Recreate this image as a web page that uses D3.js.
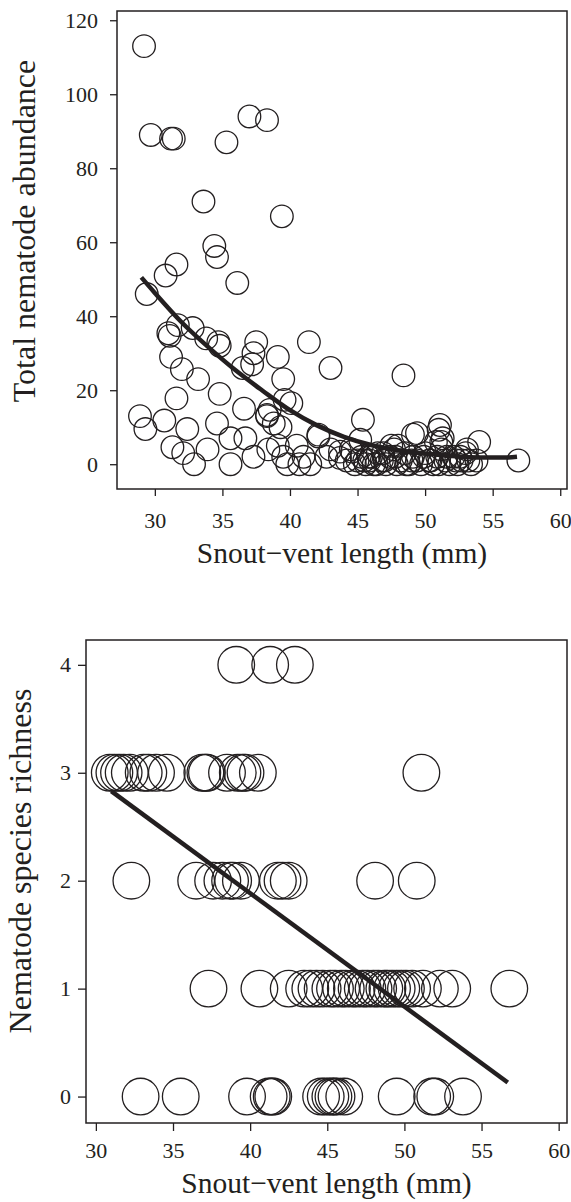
<!DOCTYPE html>
<html lang="en">
<head>
<meta charset="UTF-8">
<title>Nematodes vs snout-vent length</title>
<script src="https://d3js.org/d3.v7.min.js"></script>
<style>
  body { margin: 0; background: #fff; }
  svg text { font-family: "Liberation Serif", "Times New Roman", serif; fill: #231f20; }
</style>
</head>
<body>
<svg width="571" height="1202"></svg>
<script>
// ---- panel A: total nematode abundance ----
const svlA = [29.2, 29.7, 31.2, 31.4, 35.3, 37.0, 38.3, 33.6, 39.4, 34.4, 34.6, 31.6, 30.8, 36.1, 29.4,
  31.7, 31.0, 31.1, 32.8, 33.8, 34.7, 34.8, 31.2, 32.0, 33.2, 34.8, 31.6, 28.9, 29.3, 30.7,
  32.4, 34.6, 36.6, 31.3, 32.1, 32.9, 33.9, 35.6, 35.6, 36.7, 37.3, 37.5, 37.3, 36.5, 37.2,
  38.3, 41.4, 43.0, 48.4, 45.4, 39.1, 39.5, 40.1, 39.6, 38.5, 38.3, 38.8, 39.3, 42.1, 40.5,
  39.1, 38.4, 39.5, 41.0, 41.5, 43.7, 44.6, 45.2, 49.4, 39.8, 42.7, 51.1, 51.0, 54.0, 56.9,
  49.1, 51.3, 53.1, 40.7, 42.1, 43.0, 43.7, 44.2, 44.8, 45.3, 45.6, 45.9, 46.2, 46.5, 46.8,
  47.1, 47.4, 47.7, 47.9, 48.2, 48.5, 48.8, 49.1, 49.4, 49.7, 50.0, 50.3, 50.6, 50.9, 51.2,
  51.5, 51.8, 52.1, 52.4, 52.7, 53.0, 53.4, 53.8, 44.5, 46.0, 47.5, 50.8, 52.6,
  45.0, 45.8, 46.4, 47.0, 47.8, 48.6, 49.0, 49.9, 50.4, 51.0, 51.6, 52.3, 53.2, 46.9, 48.0,
  51.2, 45.5];
const abundA = [113, 89, 88, 88, 87, 94, 93, 71, 67, 59, 56, 54, 51, 49, 46,
  37.6, 35.4, 34.7, 36.8, 34, 33, 32, 29, 25.7, 23, 19, 17.8, 13, 9.5, 11.8,
  9.5, 11, 15, 4.6, 3, 0, 4, 7, 0, 7, 2, 33, 30, 26, 27,
  13.3, 33, 26, 24, 12, 29, 23, 16.5, 17.4, 14.7, 13, 11, 10, 8, 5,
  5, 4, 2, 2, 0, 3.4, 3.4, 6.6, 8.4, 0, 2, 10.6, 9.3, 6, 1,
  8, 7, 4, 0, 7.5, 4, 1.7, 1, 0, 2, 0, 1, 0, 3, 1,
  0, 2, 4, 0, 1, 3, 0, 2, 1, 0, 3, 1, 0, 2, 4,
  1, 0, 2, 0, 1, 3, 0, 1, 4, 2, 5, 6, 2,
  1, 2, 0, 1, 2, 0, 1, 2, 1, 0, 2, 1, 1, 3, 5,
  6, 1];
// fitted curve
const fitSvlA = [29, 30, 32, 34, 36, 38, 40, 42, 44, 46, 48, 50, 52, 54, 56, 56.8];
const fitAbundA = [50.5, 46.3, 38.3, 31.5, 25.3, 19.8, 14.6, 10.5, 7.4, 5.2, 3.8, 2.9, 2.2, 1.8, 1.8, 2.0];
const yTicksA = [0, 20, 40, 60, 80, 100, 120];

// ---- panel B: species richness ----
const svlB = [39.1, 41.3, 42.9,
  30.9, 31.2, 31.5, 31.8, 32.2, 33.1, 33.4, 33.9, 34.6, 36.9, 37.1, 37.2, 38.5, 39.2, 39.5, 39.7, 40.5, 51.1,
  32.3, 36.5, 37.6, 38.2, 38.7, 38.9, 39.4, 41.8, 42.1, 42.5, 48.1, 50.8,
  37.3, 40.6, 42.5, 43.5, 43.9, 44.3, 44.7, 45.2, 45.5, 45.9, 46.2, 46.6, 46.9, 47.3, 47.6, 48.0,
  48.3, 48.7, 48.9, 49.2, 49.5, 49.8, 50.1, 50.5, 51.2, 52.3, 53.1, 56.8,
  32.9, 35.5, 39.8, 41.2, 41.4, 41.5, 44.6, 44.9, 45.2, 45.4, 45.6, 46.1, 49.5, 51.8, 52.0, 53.8];
const richB = [4, 4, 4,
  3, 3, 3, 3, 3, 3, 3, 3, 3, 3, 3, 3, 3, 3, 3, 3, 3, 3,
  2, 2, 2, 2, 2, 2, 2, 2, 2, 2, 2, 2,
  1, 1, 1, 1, 1, 1, 1, 1, 1, 1, 1, 1, 1, 1, 1, 1,
  1, 1, 1, 1, 1, 1, 1, 1, 1, 1, 1, 1,
  0, 0, 0, 0, 0, 0, 0, 0, 0, 0, 0, 0, 0, 0, 0, 0];
const fitSvlB = [31.0, 56.7];
const fitRichB = [2.83, 0.13];
const yTicksB = [0, 1, 2, 3, 4];

const xTicks = [30, 35, 40, 45, 50, 55, 60];
const xTitle = "Snout\u2212vent length (mm)";

const svg = d3.select("svg");
const ink = "#231f20";

function drawPanel(o) {
  const g = svg.append("g");
  const x = d3.scaleLinear().domain(o.xDomain).range([o.left, o.right]);
  const y = d3.scaleLinear().domain(o.yDomain).range([o.bottom, o.top]);

  // frame
  g.append("rect")
    .attr("x", o.left).attr("y", o.top)
    .attr("width", o.right - o.left).attr("height", o.bottom - o.top)
    .attr("fill", "none").attr("stroke", ink).attr("stroke-width", 1.5);

  const xAxis = g.append("g").attr("transform", `translate(0,${o.bottom})`)
    .call(d3.axisBottom(x).tickValues(xTicks).tickSize(o.xTick).tickPadding(o.xPad));
  const yAxis = g.append("g").attr("transform", `translate(${o.left},0)`)
    .call(d3.axisLeft(y).tickValues(o.yTicks).tickFormat(d3.format("d"))
      .tickSize(o.yTick).tickPadding(o.yPad));
  [xAxis, yAxis].forEach(a => {
    a.select(".domain").remove();
    a.selectAll("line").attr("stroke", ink).attr("stroke-width", 1.3);
    a.selectAll("text").attr("font-size", 22).attr("fill", ink)
      .attr("font-family", "Liberation Serif, Times New Roman, serif");
  });

  // points
  g.append("g").selectAll("circle")
    .data(o.xs.map((v, i) => [v, o.ys[i]]))
    .join("circle")
    .attr("cx", d => x(d[0])).attr("cy", d => y(d[1]))
    .attr("r", o.r)
    .attr("fill", "none").attr("stroke", ink).attr("stroke-width", 1.3);

  // fit
  const line = d3.line().x(d => x(d[0])).y(d => y(d[1])).curve(d3.curveMonotoneX);
  g.append("path")
    .datum(o.fitX.map((v, i) => [v, o.fitY[i]]))
    .attr("d", line)
    .attr("fill", "none").attr("stroke", ink).attr("stroke-width", 4.5);

  // titles
  g.append("text")
    .attr("x", (o.left + o.right) / 2).attr("y", o.xTitleY)
    .attr("text-anchor", "middle").attr("font-size", 29.5)
    .text(xTitle);
  g.append("text")
    .attr("transform", `translate(${o.yTitleX},${o.yTitleMid}) rotate(-90)`)
    .attr("text-anchor", "middle").attr("font-size", 32)
    .text(o.yTitle);
}

drawPanel({
  left: 117, right: 567, top: 11, bottom: 489,
  xDomain: [27.2, 60.5], yDomain: [-6.7, 122.5],
  yTicks: yTicksA, xs: svlA, ys: abundA, r: 11.3,
  xTick: 7, xPad: 16, yTick: 7, yPad: 12,
  fitX: fitSvlA, fitY: fitAbundA,
  xTitleY: 563, yTitleX: 35, yTitleMid: 231,
  yTitle: "Total nematode abundance"
});

drawPanel({
  left: 86, right: 567, top: 640, bottom: 1123,
  xDomain: [29.36, 60.54], yDomain: [-0.245, 4.23],
  yTicks: yTicksB, xs: svlB, ys: richB, r: 18.3,
  xTick: 8, xPad: 11, yTick: 8, yPad: 7,
  fitX: fitSvlB, fitY: fitRichB,
  xTitleY: 1193, yTitleX: 31, yTitleMid: 861,
  yTitle: "Nematode species richness"
});
</script>
</body>
</html>
